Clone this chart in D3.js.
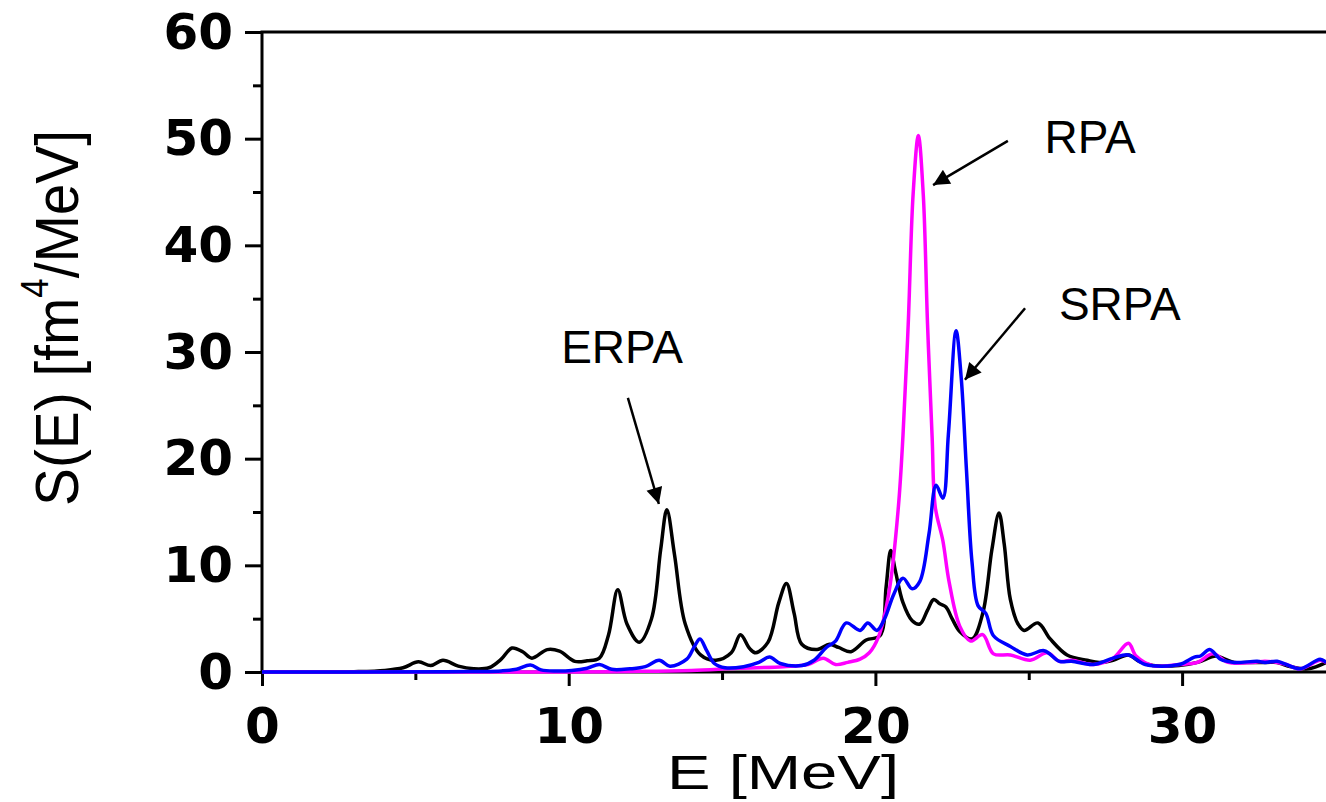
<!DOCTYPE html>
<html>
<head>
<meta charset="utf-8">
<script src="https://cdn.jsdelivr.net/npm/d3@7"></script>
<style>
  html, body { margin: 0; padding: 0; background: #fff; }
  svg { display: block; }
</style>
</head>
<body>
<svg id="chart" width="1326" height="802"></svg>
<script>
// Strength functions S(E) for the three approaches, sampled as [E (MeV), S (fm^4/MeV)]
const erpa = [
  [0,0],[2,0],[3,0.03],[4,0.15],[4.6,0.4],[5.1,0.95],[5.5,0.6],[5.9,1.1],[6.4,0.55],
  [6.9,0.3],[7.4,0.4],[7.8,1.2],[8.15,2.25],[8.5,1.9],[8.8,1.3],[9.3,2.1],[9.7,1.95],
  [10.2,1.0],[10.6,1.05],[11.0,1.3],[11.3,3.5],[11.6,7.7],[11.9,4.5],[12.3,2.8],
  [12.7,5.0],[13.0,11.5],[13.2,15.2],[13.45,11],[13.8,4.5],[14.3,1.6],[14.8,1.1],
  [15.3,1.8],[15.6,3.5],[15.9,2.2],[16.1,1.8],[16.5,2.8],[16.85,6.5],[17.1,8.3],
  [17.35,5.5],[17.6,2.6],[18.1,2.1],[18.5,2.6],[18.8,2.3],[19.2,1.9],[19.7,3.0],
  [20.15,3.4],[20.35,8],[20.5,11.4],[20.65,9.5],[20.9,6.5],[21.2,4.8],[21.45,4.5],
  [21.7,5.8],[21.9,6.8],[22.1,6.4],[22.3,6.1],[22.5,5.0],[22.75,3.8],[23.15,3.1],
  [23.5,5.5],[23.8,11.5],[24.03,14.9],[24.2,12],[24.4,6.8],[24.65,4.5],[24.85,3.9],
  [25.3,4.6],[25.7,3.1],[26.25,1.6],[26.9,1.1],[27.3,0.9],[27.75,1.1],[28.25,1.6],
  [28.6,1.0],[29.05,0.6],[29.9,0.6],[30.5,0.9],[31.1,1.5],[31.4,1.2],[31.7,0.9],
  [32.3,0.9],[32.75,0.9],[33.1,0.9],[33.4,0.6],[34.1,0.3],[34.7,0.9]
];

const rpa = [
  [0,0],[10,0],[12,0.05],[14,0.15],[15.5,0.35],[17,0.5],[17.8,0.7],[18.3,1.3],
  [18.7,0.7],[19.1,0.9],[19.5,1.2],[19.8,1.8],[20.1,3.3],[20.45,7.6],[20.75,15.5],
  [20.9,22.2],[21.07,32.6],[21.23,44.8],[21.4,50.3],[21.56,44.8],[21.7,32.6],
  [21.85,22],[21.95,15.5],[22.2,12.3],[22.4,8.5],[22.75,4.3],[23.1,2.9],[23.5,3.5],
  [23.85,1.7],[24.4,1.6],[25.05,1.1],[25.6,1.8],[26.0,1.0],[26.4,1.1],[27.1,0.7],
  [27.75,1.3],[28.25,2.7],[28.5,1.5],[29.05,0.6],[29.9,0.7],[30.5,0.9],[31.0,1.7],
  [31.5,0.9],[32.3,0.9],[32.7,1.0],[33.1,0.9],[33.4,0.7],[33.85,0.3],[34.5,1.1],[34.7,0.9]
];

const srpa = [
  [0,0],[6,0.02],[7,0.05],[7.8,0.1],[8.3,0.25],[8.75,0.65],[9.1,0.2],[9.6,0.1],
  [10.1,0.15],[10.6,0.35],[11.0,0.7],[11.4,0.25],[12.0,0.3],[12.5,0.5],[12.95,1.1],
  [13.3,0.55],[13.85,1.2],[14.1,2.4],[14.28,3.1],[14.5,2.0],[14.75,0.8],[15.1,0.4],
  [15.7,0.5],[16.2,0.9],[16.55,1.4],[16.9,0.8],[17.6,0.6],[18.0,1.1],[18.4,2.3],
  [18.7,2.9],[19.05,4.6],[19.5,3.9],[19.75,4.6],[20.05,3.9],[20.3,5.0],[20.6,7.3],
  [20.9,8.8],[21.2,7.8],[21.45,8.5],[21.75,13],[21.98,17.5],[22.2,16.3],[22.38,22.3],
  [22.63,32.0],[22.8,27.5],[22.97,18.9],[23.15,10.3],[23.35,6.2],[23.6,5.5],
  [23.85,3.4],[24.4,2.4],[24.95,1.6],[25.5,2.0],[26.0,1.0],[26.4,1.0],[27.1,0.7],
  [27.75,1.3],[28.25,1.6],[28.8,0.7],[29.9,0.7],[30.4,1.4],[30.6,1.5],[30.9,2.1],
  [31.25,1.2],[31.7,0.9],[32.45,1.0],[32.7,0.9],[33.1,1.0],[33.4,0.7],[33.85,0.3],
  [34.5,1.2],[34.7,0.9]
];

// Axis ticks
const xMajorTicks = [0, 10, 20, 30];
const xMinorTicks = [5, 15, 25];
const yMajorTicks = [0, 10, 20, 30, 40, 50, 60];
const yMinorTicks = [5, 15, 25, 35, 45, 55];

// Curve styles and label annotations (positions in data units)
const seriesList = [
  { name: "ERPA", data: erpa, color: "#000000" },
  { name: "RPA",  data: rpa,  color: "#ff00ff" },
  { name: "SRPA", data: srpa, color: "#0000ff" }
];
const annotations = [
  { text: "ERPA", tx: 11.74, ty: 28.97, from: [11.93, 25.7], to: [12.94, 15.75] },
  { text: "RPA",  tx: 27.0,  ty: 48.65, from: [24.32, 49.8], to: [21.88, 45.65] },
  { text: "SRPA", tx: 27.97, ty: 33.0,  from: [24.88, 34.1], to: [22.92, 27.4] }
];

const W = 1326, H = 802;
const plotLeft = 262, plotTop = 32, plotBottom = 672;
const pxPerMeV = 30.67;

const x = d3.scaleLinear().domain([0, 35]).range([plotLeft, plotLeft + 35 * pxPerMeV]);
const y = d3.scaleLinear().domain([0, 60]).range([plotBottom, plotTop]);

const svg = d3.select("#chart");

svg.append("defs").append("marker")
  .attr("id", "arrowhead")
  .attr("viewBox", "0 0 10 10")
  .attr("refX", 10).attr("refY", 5)
  .attr("markerWidth", 8).attr("markerHeight", 6.5)
  .attr("markerUnits", "strokeWidth")
  .attr("orient", "auto")
  .append("path")
  .attr("d", "M0,0 L10,5 L0,10 z")
  .attr("fill", "#000");

const tickFont = "'DejaVu Sans', sans-serif";

// Y axis (left)
const yAxis = svg.append("g")
  .attr("transform", `translate(${plotLeft},0)`)
  .call(d3.axisLeft(y).tickValues(yMajorTicks).tickSize(17).tickPadding(12).tickSizeOuter(0));
yAxis.select(".domain").remove();
yAxis.selectAll("line").attr("stroke", "#000").attr("stroke-width", 3);
yAxis.selectAll("text")
  .attr("font-family", tickFont).attr("font-weight", "bold")
  .attr("font-size", 50).attr("fill", "#000");

svg.append("g")
  .attr("transform", `translate(${plotLeft},0)`)
  .call(d3.axisLeft(y).tickValues(yMinorTicks).tickSize(9).tickFormat(""))
  .call(g => g.select(".domain").remove())
  .selectAll("line").attr("stroke", "#000").attr("stroke-width", 3);

// X axis (bottom)
const xAxis = svg.append("g")
  .attr("transform", `translate(0,${plotBottom})`)
  .call(d3.axisBottom(x).tickValues(xMajorTicks).tickSize(14).tickPadding(21).tickSizeOuter(0));
xAxis.select(".domain").remove();
xAxis.selectAll("line").attr("stroke", "#000").attr("stroke-width", 3);
xAxis.selectAll("text")
  .attr("font-family", tickFont).attr("font-weight", "bold")
  .attr("font-size", 50).attr("fill", "#000");

svg.append("g")
  .attr("transform", `translate(0,${plotBottom})`)
  .call(d3.axisBottom(x).tickValues(xMinorTicks).tickSize(8).tickFormat(""))
  .call(g => g.select(".domain").remove())
  .selectAll("line").attr("stroke", "#000").attr("stroke-width", 3);

// Frame lines: left, bottom, top
svg.append("line")
  .attr("x1", x(0)).attr("x2", x(0)).attr("y1", y(60)).attr("y2", y(0))
  .attr("stroke", "#000").attr("stroke-width", 3);
svg.append("line")
  .attr("x1", x(0)).attr("x2", W).attr("y1", y(0)).attr("y2", y(0))
  .attr("stroke", "#000").attr("stroke-width", 3);
svg.append("line")
  .attr("x1", x(0) - 1.5).attr("x2", W).attr("y1", y(60)).attr("y2", y(60))
  .attr("stroke", "#000").attr("stroke-width", 3);

// Spectra
const line = d3.line()
  .x(d => x(d[0]))
  .y(d => y(d[1]))
  .curve(d3.curveCatmullRom.alpha(0.5));

svg.append("clipPath").attr("id", "plotClip")
  .append("rect").attr("x", plotLeft).attr("y", plotTop)
  .attr("width", W - plotLeft).attr("height", plotBottom - plotTop + 4);

svg.append("g").attr("clip-path", "url(#plotClip)")
  .selectAll("path")
  .data(seriesList)
  .join("path")
  .attr("d", d => line(d.data))
  .attr("fill", "none")
  .attr("stroke", d => d.color)
  .attr("stroke-width", 3.5)
  .attr("stroke-linejoin", "round");

// Annotations
const ann = svg.append("g");
ann.selectAll("line")
  .data(annotations)
  .join("line")
  .attr("x1", d => x(d.from[0])).attr("y1", d => y(d.from[1]))
  .attr("x2", d => x(d.to[0])).attr("y2", d => y(d.to[1]))
  .attr("stroke", "#000").attr("stroke-width", 2.5)
  .attr("marker-end", "url(#arrowhead)");
ann.selectAll("text")
  .data(annotations)
  .join("text")
  .attr("x", d => x(d.tx)).attr("y", d => y(d.ty))
  .attr("text-anchor", "middle")
  .attr("font-family", "'Liberation Sans', Arial, sans-serif")
  .attr("font-size", 46)
  .attr("fill", "#000")
  .text(d => d.text);

// Axis titles
svg.append("text")
  .attr("x", 783).attr("y", 789)
  .attr("text-anchor", "middle")
  .attr("font-family", "'Liberation Sans', Arial, sans-serif")
  .attr("font-size", 48)
  .attr("textLength", 232).attr("lengthAdjust", "spacingAndGlyphs")
  .attr("fill", "#000")
  .text("E [MeV]");

const yTitle = svg.append("text")
  .attr("transform", "translate(78,318) rotate(-90)")
  .attr("text-anchor", "middle")
  .attr("font-family", "'Liberation Sans', Arial, sans-serif")
  .attr("font-size", 62)
  .attr("textLength", 376).attr("lengthAdjust", "spacingAndGlyphs")
  .attr("fill", "#000");
yTitle.append("tspan").text("S(E) [fm");
yTitle.append("tspan").attr("font-size", 38).attr("dy", -30).text("4");
yTitle.append("tspan").attr("dy", 30).text("/MeV]");
</script>
</body>
</html>
